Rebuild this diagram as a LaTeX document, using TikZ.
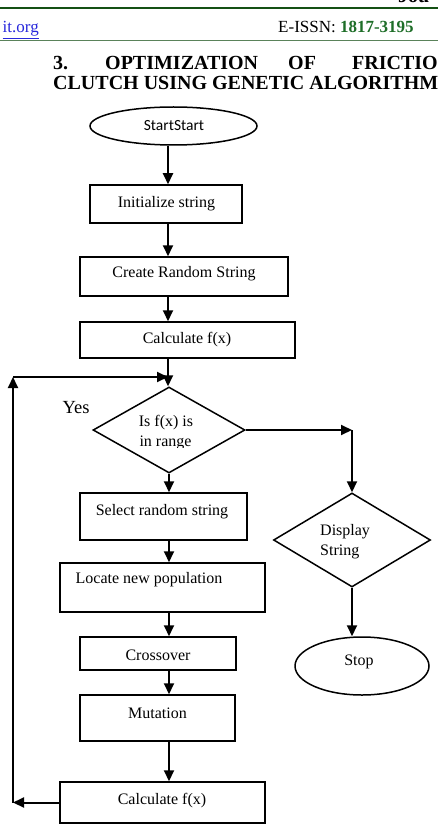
\documentclass[tikz,border=0pt]{standalone}
\usepackage{fontspec}
\setmainfont{Liberation Serif}
\newfontfamily\calibrifont{Carlito}
\usetikzlibrary{shapes.geometric,arrows.meta,calc}
\definecolor{hdrgreen}{RGB}{20,80,20}
\definecolor{thinline}{RGB}{90,130,90}
\definecolor{issngreen}{RGB}{30,110,40}
\definecolor{linkblue}{RGB}{40,40,220}
\begin{document}
\begin{tikzpicture}[x=1pt,y=-1pt,
  box/.style={draw,line width=1.5pt,inner sep=0pt},
  dia/.style={draw,diamond,line width=1.5pt,inner sep=0pt},
  ell/.style={draw,ellipse,line width=1.5pt,inner sep=0pt},
  arr/.style={line width=2pt,-{Triangle[length=11pt,width=10pt]}},
  txt/.style={font=\fontsize{16}{19}\selectfont,inner sep=0pt},
  ttl/.style={font=\fontsize{20}{24}\selectfont\bfseries,inner sep=0pt,anchor=base west}]
\useasboundingbox (0,0) rectangle (438,826);
\clip (0,0) rectangle (438,826);
\fill[white] (0,0) rectangle (438,826);

% header
\node[ttl] (jou) at (398,3) {Jou};
\draw[hdrgreen, line width=2.5pt] (0,8) -- (438,8);
\node[anchor=base east, text=linkblue, font=\fontsize{17}{20}\selectfont, inner sep=0pt] (url) at (39,33) {\underline{it.org}};
\node[anchor=base west, font=\fontsize{17}{20}\selectfont, inner sep=0pt] (issn) at (278,33) {E-ISSN: \textbf{\color{issngreen}1817-3195}};
\draw[thinline, line width=0.8pt] (0,40) -- (438,40);

% title
\node[ttl] (t1) at (53,70) {3.};
\node[ttl] (t2) at (105,70) {OPTIMIZATION};
\node[ttl] (t3) at (288,70) {OF};
\node[ttl] (t4) at (352,70) {FRICTION};
\node[ttl] (t5) at (53,90) {CLUTCH USING GENETIC ALGORITHM};

% shapes
\node[ell, minimum width=167, minimum height=38] (start) at (173.5,126) {};
\node[box, minimum width=152, minimum height=38] (init) at (166,204) {};
\node[box, minimum width=208, minimum height=39] (crs) at (184,276.5) {};
\node[box, minimum width=215, minimum height=36] (calc1) at (187.5,340) {};
\node[dia, minimum width=152, minimum height=86] (d1) at (169,430) {};
\node[box, minimum width=167, minimum height=47] (sel) at (163.5,516.5) {};
\node[box, minimum width=205, minimum height=49] (loc) at (162.5,587.5) {};
\node[box, minimum width=156, minimum height=33] (cross) at (158,653.5) {};
\node[box, minimum width=155, minimum height=46] (mut) at (157.5,718) {};
\node[box, minimum width=205, minimum height=41] (calc2) at (162.5,802.5) {};
\node[dia, minimum width=157, minimum height=94] (d2) at (352,540) {};
\node[ell, minimum width=134, minimum height=58] (stop) at (362,666) {};

% texts
\node[txt, font=\calibrifont\fontsize{15.5}{18}\selectfont] (startt) at (174,126) {StartStart};
\node[txt] (initt) at (166.5,204) {Initialize string};
\node[txt] (crst) at (184,274) {Create Random String};
\node[txt] (calc1t) at (187,340) {Calculate f(x)};
\node[txt] (d1a) at (166,423) {Is f(x) is};
\begin{scope}
  \clip (100,380) rectangle (240,447.5);
  \node[txt] (d1b) at (165.5,443) {in range};
\end{scope}
\node[txt, font=\fontsize{18.5}{22}\selectfont] (yes) at (76,408) {Yes};
\node[txt] (selt) at (162,512) {Select random string};
\node[txt] (loct) at (149,580) {Locate new population};
\node[txt] (crosst) at (158,655) {Crossover};
\node[txt] (mutt) at (157.5,713) {Mutation};
\node[txt] (calc2t) at (162,801) {Calculate f(x)};
\node[txt, anchor=west] (d2a) at (320,532) {Display};
\node[txt, anchor=west] (d2b) at (320,552) {String};
\node[txt] (stopt) at (359,662) {Stop};

% connectors
\coordinate (col) at (168,0);
\coordinate (L) at (13,377);
\draw[arr] (col |- start.south) -- (col |- init.north);
\draw[arr] (col |- init.south) -- (col |- crs.north);
\draw[arr] (col |- crs.south) -- (col |- calc1.north);
\draw[arr] (col |- calc1.south) -- (col |- d1.north);
\draw[arr] (d1.south) -- (d1.south |- sel.north);
\draw[arr] (d1.south |- sel.south) -- (d1.south |- loc.north);
\draw[arr] (d1.south |- loc.south) -- (d1.south |- cross.north);
\draw[arr] (d1.south |- cross.south) -- (d1.south |- mut.north);
\draw[arr] (d1.south |- mut.south) -- (d1.south |- calc2.north);
\draw[arr] (calc2.west) -- (calc2.west -| L);
\draw[arr] (calc2.west -| L) -- (L);
\draw[arr] (L) -- (L -| col);
\draw[arr] (d1.east) -- (d1.east -| d2.north);
\draw[arr] (d1.east -| d2.north) -- (d2.north);
\draw[arr] (d2.south) -- (d2.south |- stop.north);
\end{tikzpicture}
\end{document}
